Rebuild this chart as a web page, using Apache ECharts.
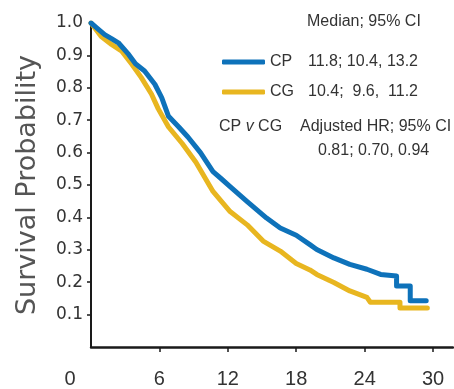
<!DOCTYPE html>
<html>
<head>
<meta charset="utf-8">
<script src="https://cdn.jsdelivr.net/npm/echarts@6/dist/echarts.min.js"></script>
<style>
  html, body { margin: 0; padding: 0; background: #fff; }
  #chart { width: 454px; height: 389px; }
</style>
</head>
<body>
<div id="chart"></div>
<script>
// survival curves (months, probability)
const cpMonths = [0, 0.5, 1.2, 1.8, 2.4, 3.3, 3.9, 4.7, 5.6, 6.2, 6.8, 7.7, 8.5, 9.6, 10.7, 11.4, 12.2, 13.7, 15.4, 16.6, 18.0, 19.2, 19.8, 21.3, 22.7, 24.2, 25.4, 26.8, 26.8, 28.0, 28.0, 29.4]
const cpSurv = [1.0, 0.985, 0.964, 0.952, 0.939, 0.903, 0.874, 0.852, 0.811, 0.77, 0.712, 0.679, 0.648, 0.6, 0.541, 0.52, 0.495, 0.449, 0.398, 0.367, 0.345, 0.316, 0.301, 0.275, 0.255, 0.24, 0.224, 0.219, 0.188, 0.188, 0.143, 0.143]
const cgMonths = [0, 0.9, 1.8, 2.7, 3.6, 4.4, 5.3, 5.9, 6.8, 8.0, 9.2, 10.7, 12.2, 13.7, 15.1, 16.6, 18.0, 19.2, 19.8, 21.3, 22.7, 24.2, 24.5, 27.1, 27.1, 29.5]
const cgSurv = [1.0, 0.958, 0.934, 0.913, 0.872, 0.832, 0.781, 0.735, 0.679, 0.628, 0.57, 0.48, 0.418, 0.377, 0.327, 0.296, 0.258, 0.238, 0.224, 0.199, 0.173, 0.153, 0.138, 0.138, 0.12, 0.12]

const xTicks = [0, 6, 12, 18, 24, 30]
const yTicks = [0.1, 0.2, 0.3, 0.4, 0.5, 0.6, 0.7, 0.8, 0.9, 1.0]
const legendNames = ['CP', 'CG']
const legendStats = ['11.8; 10.4, 13.2', '10.4;  9.6,  11.2']

const colors = ['#0e72ba', '#e8b620']
const textColor = '#333'
const legendFont = 'Liberation Sans, Arial, sans-serif'

const pairs = (xs, ys) => xs.map((x, i) => [x, ys[i]])

const chart = echarts.init(document.getElementById('chart'))
chart.setOption({
  animation: false,
  color: colors,
  grid: { left: 91, right: 1, top: 23, bottom: 39 },
  xAxis: {
    type: 'value',
    min: 0,
    max: 31.75,
    splitLine: { show: false },
    axisLine: { lineStyle: { color: '#1a1a1a', width: 2.5 } },
    axisTick: { customValues: [6, 12, 18, 24, 30], length: 5, lineStyle: { color: '#1a1a1a', width: 1.5 } },
    axisLabel: {
      customValues: xTicks,
      margin: 22,
      color: textColor,
      fontSize: 20,
      fontFamily: legendFont,
      formatter: v => (v === 0 ? '{z|0}' : String(v)),
      rich: {
        z: { fontSize: 20, fontFamily: legendFont, color: textColor, padding: [0, 42, 0, 0] }
      }
    }
  },
  yAxis: {
    type: 'value',
    min: 0,
    max: 1,
    name: 'Survival Probability',
    nameLocation: 'middle',
    nameRotate: 90,
    nameGap: 50,
    nameTextStyle: { fontSize: 27, color: '#555', fontFamily: 'DejaVu Sans, sans-serif' },
    splitLine: { show: false },
    axisLine: { show: true, lineStyle: { color: '#1a1a1a', width: 2 } },
    axisTick: { show: true, customValues: [0.1, 0.2, 0.3, 0.4, 0.5, 0.6, 0.7, 0.8, 0.9], length: 4, lineStyle: { color: '#1a1a1a', width: 1.5 } },
    axisLabel: {
      customValues: yTicks,
      margin: 8,
      color: textColor,
      fontSize: 17,
      fontFamily: 'DejaVu Sans, sans-serif',
      formatter: v => v.toFixed(1)
    }
  },
  legend: {
    orient: 'vertical',
    left: 217,
    top: 47,
    itemWidth: 43,
    itemHeight: 5,
    itemGap: 10,
    icon: 'roundRect',
    selectedMode: false,
    data: legendNames,
    formatter: name => `{n|${name}}{v|${legendStats[legendNames.indexOf(name)]}}`,
    textStyle: {
      lineHeight: 20,
      rich: {
        n: { width: 38, fontSize: 16, color: textColor, fontFamily: legendFont },
        v: { fontSize: 16, color: textColor, fontFamily: legendFont }
      }
    }
  },
  graphic: [
    {
      type: 'text', left: 307, top: 14,
      style: { text: 'Median; 95% CI', fontSize: 16, fill: textColor, fontFamily: legendFont }
    },
    {
      type: 'text', left: 219, top: 119,
      style: {
        text: '{a|CP }{b|v}{a| CG}',
        rich: {
          a: { fontSize: 16, fill: textColor, fontFamily: legendFont },
          b: { fontSize: 16, fill: textColor, fontFamily: legendFont, fontStyle: 'italic' }
        }
      }
    },
    {
      type: 'text', left: 300, top: 119,
      style: { text: 'Adjusted HR; 95% CI', fontSize: 16, fill: textColor, fontFamily: legendFont }
    },
    {
      type: 'text', left: 318, top: 143,
      style: { text: '0.81; 0.70, 0.94', fontSize: 16, fill: textColor, fontFamily: legendFont }
    }
  ],
  series: [
    {
      name: 'CP',
      type: 'line',
      showSymbol: false,
      z: 3,
      lineStyle: { width: 5, cap: 'round', join: 'round' },
      data: pairs(cpMonths, cpSurv)
    },
    {
      name: 'CG',
      type: 'line',
      showSymbol: false,
      z: 2,
      lineStyle: { width: 5, cap: 'round', join: 'round' },
      data: pairs(cgMonths, cgSurv)
    }
  ]
})
</script>
</body>
</html>
